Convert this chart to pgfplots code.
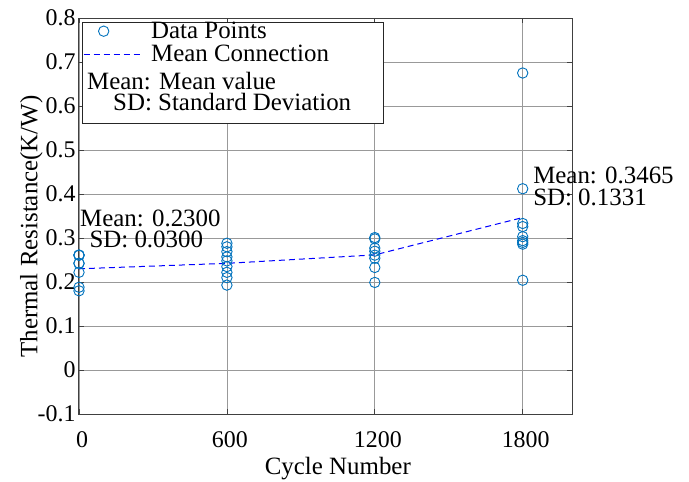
\documentclass[border=0pt]{standalone}
\usepackage{pgfplots}
\pgfplotsset{compat=1.18}
\usepackage{fontspec}
\setmainfont{Liberation Serif}
\definecolor{ptblue}{rgb}{0,0.447,0.741}
\newcommand{\lblfont}{\fontsize{25}{30}\selectfont}
\newcommand{\tickfont}{\fontsize{24}{29}\selectfont}
\pgfplotsset{
  markleg/.style={legend image code/.code={\path (0bp,0bp) (57bp,0bp); \draw[##1] plot coordinates {(20bp,0bp)};}},
  lineleg/.style={legend image code/.code={\draw[##1] (0bp,0bp) -- (57bp,0bp);}},
}

\begin{document}
\begin{tikzpicture}
\useasboundingbox (-79bp,-68bp) rectangle (610bp,414bp);
\begin{axis}[
  scale only axis, width=493bp, height=396bp,
  xmin=0, xmax=2000, ymin=-0.1, ymax=0.8,
  xtick={0,600,1200,1800}, xticklabels={0,600,1200,1800},
  ytick={-0.1,0,0.1,0.2,0.3,0.4,0.5,0.6,0.7,0.8},
  yticklabels={-0.1,0,0.1,0.2,0.3,0.4,0.5,0.6,0.7,0.8},
  grid=major, major grid style={black!40, line width=0.8bp},
  axis line style={black!75, line width=1bp},
  tick align=inside, major tick length=5bp,
  tick style={black!75, line width=0.8bp},
  tick label style={font=\tickfont},
  xticklabel style={xshift=3bp, yshift=-14bp},
  clip=false,
  xlabel={Cycle Number}, ylabel={Thermal Resistance(K/W)},
  every axis x label/.style={at={(axis description cs:0.525,0)}, anchor=base, yshift=-60.3bp, font=\lblfont},
  every axis y label/.style={at={(axis description cs:-0.0842,0.4735)}, rotate=90, anchor=base, font=\lblfont},
  legend style={at={(axis description cs:0,1)}, anchor=north west, draw=none, fill=none,
    font=\lblfont, xshift=1bp, yshift=0bp, row sep=1bp,
    /tikz/every odd column/.append style={column sep=8bp}},
  legend cell align=left,
]
% individual measurements at each cycle count
\addplot[only marks, mark=o, mark size=5.2bp, ptblue, line width=0.9bp, markleg]
  table {
x y
0 0.261
0 0.261
0 0.261
0 0.2425
0 0.2425
0 0.222
0 0.188
0 0.180
600 0.288
600 0.280
600 0.269
600 0.257
600 0.248
600 0.235
600 0.222
600 0.210
600 0.193
1200 0.301
1200 0.298
1200 0.277
1200 0.270
1200 0.261
1200 0.254
1200 0.233
1200 0.199
1800 0.675
1800 0.412
1800 0.333
1800 0.326
1800 0.303
1800 0.294
1800 0.290
1800 0.286
1800 0.204
};
\addlegendentry{Data Points}
% mean of each group
\addplot[blue, dash pattern=on 6bp off 4bp, line width=1bp, lineleg]
  coordinates {(0,0.2300) (600,0.2424) (1200,0.2616) (1800,0.3465)};
\addlegendentry{Mean Connection}

% legend frame and the abbreviation notes
\draw[black!85, line width=1bp, fill=white]
  ([xshift=4bp,yshift=-4bp]axis description cs:0,1) rectangle
  ([xshift=304bp,yshift=-105bp]axis description cs:0,1);
\node[anchor=base west, inner sep=0pt, font=\lblfont] at ([xshift=8bp,yshift=-71bp]axis description cs:0,1) {Mean: Mean value};
\node[anchor=base west, inner sep=0pt, font=\lblfont] at ([xshift=34bp,yshift=-92bp]axis description cs:0,1) {SD: Standard Deviation};

% statistics of the first and last groups
\node[anchor=base west, inner sep=0pt, font=\lblfont] at (axis cs:4,0.3257) {Mean: 0.2300};
\node[anchor=base west, inner sep=0pt, font=\lblfont] at (axis cs:42,0.279) {SD: 0.0300};
\node[anchor=base west, inner sep=0pt, font=\lblfont] at (axis cs:1842,0.4243) {Mean: 0.3465};
\node[anchor=base west, inner sep=0pt, font=\lblfont] at (axis cs:1842,0.3734) {SD: 0.1331};
\end{axis}
\end{tikzpicture}
\end{document}
